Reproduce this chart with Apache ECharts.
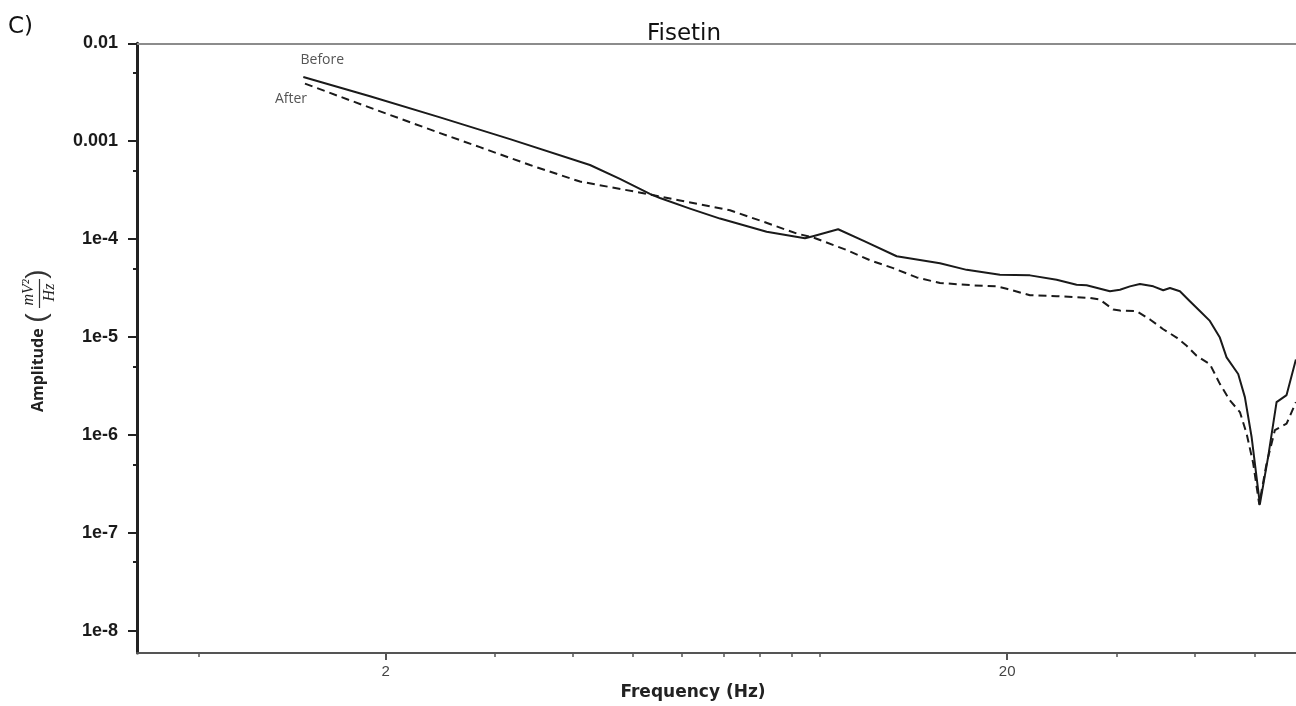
<!DOCTYPE html>
<html>
<head>
<meta charset="utf-8">
<script src="https://cdn.jsdelivr.net/npm/echarts@6/dist/echarts.min.js"></script>
<style>
  html, body { margin: 0; padding: 0; background: #ffffff; }
  #chart { width: 1296px; height: 706px; }
</style>
</head>
<body>
<div id="chart"></div>
<script>
// Power spectrum of the recording before and after Fisetin (log-log)
const beforeFreq = [1.474, 1.887, 2.446, 3.170, 4.263, 4.763, 5.323, 5.525, 6.174, 6.901,
  8.203, 9.454, 9.738, 10.69, 11.80, 13.28, 15.59, 17.21, 19.47, 21.76,
  24.02, 25.86, 26.84, 29.26, 30.37, 31.51, 32.70, 34.36, 35.65, 36.55,
  37.92, 39.35, 40.83, 42.37, 43.97, 45.08, 47.06, 48.24, 49.45, 51.00,
  52.59, 54.25, 56.30, 58.28];
const beforeAmp = [4.52e-3, 2.88e-3, 1.75e-3, 1.05e-3, 5.71e-4, 4.12e-4, 2.90e-4, 2.63e-4, 2.05e-4, 1.62e-4,
  1.19e-4, 1.02e-4, 1.07e-4, 1.26e-4, 9.48e-5, 6.68e-5, 5.67e-5, 4.85e-5, 4.32e-5, 4.26e-5,
  3.84e-5, 3.42e-5, 3.37e-5, 2.93e-5, 3.04e-5, 3.29e-5, 3.48e-5, 3.29e-5, 3.00e-5, 3.17e-5,
  2.93e-5, 2.32e-5, 1.84e-5, 1.46e-5, 9.86e-6, 6.18e-6, 4.19e-6, 2.43e-6, 9.57e-7, 1.96e-7,
  6.00e-7, 2.16e-6, 2.55e-6, 5.90e-6];

const afterFreq = [1.483, 1.887, 2.446, 2.836, 3.414, 4.108, 5.259, 5.950, 7.161, 8.092,
  9.167, 9.738, 11.03, 12.03, 13.11, 14.30, 15.59, 17.63, 19.23, 19.96,
  21.76, 24.02, 27.17, 28.19, 29.62, 30.37, 32.30, 33.94, 35.65, 37.46,
  38.88, 40.34, 42.37, 43.97, 45.63, 47.36, 48.55, 49.75, 50.87, 52.29,
  53.92, 56.30, 58.28];
const afterAmp = [3.87e-3, 2.20e-3, 1.21e-3, 8.69e-4, 5.71e-4, 3.87e-4, 2.90e-4, 2.48e-4, 1.97e-4, 1.51e-4,
  1.14e-4, 1.04e-4, 7.74e-5, 6.08e-5, 5.05e-5, 4.06e-5, 3.56e-5, 3.37e-5, 3.29e-5, 3.11e-5,
  2.67e-5, 2.61e-5, 2.51e-5, 2.41e-5, 1.91e-5, 1.86e-5, 1.84e-5, 1.51e-5, 1.20e-5, 9.86e-6,
  8.13e-6, 6.43e-6, 5.29e-6, 3.32e-6, 2.25e-6, 1.71e-6, 1.03e-6, 5.13e-7, 1.96e-7, 5.13e-7,
  1.12e-6, 1.30e-6, 2.16e-6];

const xTickValues = [2, 20];
const xTickLabels = ['2', '20'];
const xMinorTickValues = [1, 3, 4, 5, 6, 7, 8, 9, 10, 30, 40, 50];
const yTickValues = [1e-8, 1e-7, 1e-6, 1e-5, 1e-4, 1e-3, 1e-2];
const yTickLabels = ['1e-8', '1e-7', '1e-6', '1e-5', '1e-4', '0.001', '0.01'];
const yMinorTickValues = [5e-8, 5e-7, 5e-6, 5e-5, 5e-4, 5e-3];

const X_MIN = 0.796, X_MAX = 58.3;
const Y_MIN = 5.9e-9, Y_MAX = 0.01;

function labelFor(values, labels) {
  return function (v) {
    let best = 0, bestD = Infinity;
    for (let i = 0; i < values.length; i++) {
      const d = Math.abs(Math.log10(v) - Math.log10(values[i]));
      if (d < bestD) { bestD = d; best = i; }
    }
    return labels[best];
  };
}

const chart = echarts.init(document.getElementById('chart'), null, { renderer: 'canvas' });

const option = {
  animation: false,
  backgroundColor: '#ffffff',
  title: [
    {
      text: 'Fisetin', left: 647, top: 23, padding: 0,
      textStyle: { fontFamily: 'DejaVu Sans', fontSize: 23, fontWeight: 'normal', color: '#111' }
    },
    {
      text: 'C)', left: 8, top: 16, padding: 0,
      textStyle: { fontFamily: 'DejaVu Sans', fontSize: 23, fontWeight: 'normal', color: '#111' }
    }
  ],
  grid: { left: 137, right: 0, top: 43.3, bottom: 47.7, containLabel: false },
  xAxis: [
    {
      type: 'log', logBase: 10, position: 'bottom', min: X_MIN, max: X_MAX,
      axisLine: { show: true, onZero: false, lineStyle: { color: '#555', width: 2 } },
      axisTick: { show: true, customValues: xTickValues, length: 7, lineStyle: { color: '#555', width: 2 } },
      axisLabel: {
        show: true, customValues: xTickValues, formatter: labelFor(xTickValues, xTickLabels),
        margin: 11, fontSize: 15, fontFamily: 'Liberation Sans', color: '#444'
      },
      splitLine: { show: false }, minorTick: { show: false },
      name: 'Frequency (Hz)', nameLocation: 'middle', nameGap: 28,
      nameTextStyle: {
        fontFamily: 'DejaVu Sans', fontWeight: 'bold', fontSize: 17, color: '#222',
        padding: [0, 47, 0, 0]
      }
    },
    {
      type: 'log', logBase: 10, position: 'bottom', min: X_MIN, max: X_MAX,
      axisLine: { show: false, onZero: false },
      axisTick: { show: true, customValues: xMinorTickValues, length: 4, lineStyle: { color: '#555', width: 1.5 } },
      axisLabel: { show: false }, splitLine: { show: false }
    },
    {
      type: 'log', logBase: 10, position: 'top', min: X_MIN, max: X_MAX,
      axisLine: { show: true, onZero: false, lineStyle: { color: '#8c8c8c', width: 2 } },
      axisTick: { show: false }, axisLabel: { show: false }, splitLine: { show: false }
    }
  ],
  yAxis: [
    {
      type: 'log', logBase: 10, position: 'left', min: Y_MIN, max: Y_MAX,
      axisLine: { show: true, onZero: false, lineStyle: { color: '#222', width: 3 } },
      axisTick: { show: true, customValues: yTickValues, length: 9, lineStyle: { color: '#222', width: 2 } },
      axisLabel: {
        show: true, customValues: yTickValues, formatter: labelFor(yTickValues, yTickLabels),
        margin: 19, fontSize: 18, fontWeight: 'bold', fontFamily: 'Liberation Sans', color: '#1a1a1a'
      },
      splitLine: { show: false }, minorTick: { show: false }
    },
    {
      type: 'log', logBase: 10, position: 'left', min: Y_MIN, max: Y_MAX,
      axisLine: { show: false, onZero: false },
      axisTick: { show: true, customValues: yMinorTickValues, length: 4, lineStyle: { color: '#222', width: 2 } },
      axisLabel: { show: false }, splitLine: { show: false }
    }
  ],
  series: [
    {
      name: 'Before', type: 'line', xAxisIndex: 0, yAxisIndex: 0,
      data: beforeFreq.map((f, i) => [f, beforeAmp[i]]),
      showSymbol: false, symbol: 'none', smooth: false,
      lineStyle: { color: '#1a1a1a', width: 2, join: 'round' },
      markPoint: {
        symbol: 'circle', symbolSize: 0, silent: true,
        data: [{
          coord: [beforeFreq[0], beforeAmp[0]],
          label: {
            show: true, formatter: 'Before', offset: [19, -17],
            fontFamily: 'Open Sans', fontSize: 14, color: '#555'
          }
        }]
      }
    },
    {
      name: 'After', type: 'line', xAxisIndex: 0, yAxisIndex: 0,
      data: afterFreq.map((f, i) => [f, afterAmp[i]]),
      showSymbol: false, symbol: 'none', smooth: false,
      lineStyle: { color: '#1a1a1a', width: 2, type: [8, 5], join: 'round' },
      markPoint: {
        symbol: 'circle', symbolSize: 0, silent: true,
        data: [{
          coord: [afterFreq[0], afterAmp[0]],
          label: {
            show: true, formatter: 'After', offset: [-14, 15],
            fontFamily: 'Open Sans', fontSize: 14, color: '#555'
          }
        }]
      }
    }
  ],
  graphic: [
    {
      // rotated axis title: Amplitude (mV²/Hz)
      type: 'group', x: 38.5, y: 342, rotation: Math.PI / 2,
      children: [
        {
          type: 'text', x: -70, y: 0,
          style: {
            text: 'Amplitude', font: 'bold 16px "Open Sans"', fill: '#222',
            align: 'left', verticalAlign: 'middle', textAlign: 'left', textVerticalAlign: 'middle'
          }
        },
        {
          type: 'text', x: 24, y: -1,
          style: {
            text: '(', font: '28px "Liberation Sans"', fill: '#333',
            align: 'center', verticalAlign: 'middle', textAlign: 'center', textVerticalAlign: 'middle'
          }
        },
        {
          type: 'text', x: 49.5, y: -10,
          style: {
            text: 'mV\u00B2', font: 'italic 16px "Liberation Serif"', fill: '#222',
            align: 'center', verticalAlign: 'middle', textAlign: 'center', textVerticalAlign: 'middle'
          }
        },
        {
          type: 'line', shape: { x1: 34, y1: 1, x2: 63, y2: 1 },
          style: { stroke: '#333', lineWidth: 1.2 }
        },
        {
          type: 'text', x: 49.5, y: 11.5,
          style: {
            text: 'Hz', font: 'italic 16px "Liberation Serif"', fill: '#222',
            align: 'center', verticalAlign: 'middle', textAlign: 'center', textVerticalAlign: 'middle'
          }
        },
        {
          type: 'text', x: 68, y: -1,
          style: {
            text: ')', font: '28px "Liberation Sans"', fill: '#333',
            align: 'center', verticalAlign: 'middle', textAlign: 'center', textVerticalAlign: 'middle'
          }
        }
      ]
    }
  ]
};

chart.setOption(option);
</script>
</body>
</html>
